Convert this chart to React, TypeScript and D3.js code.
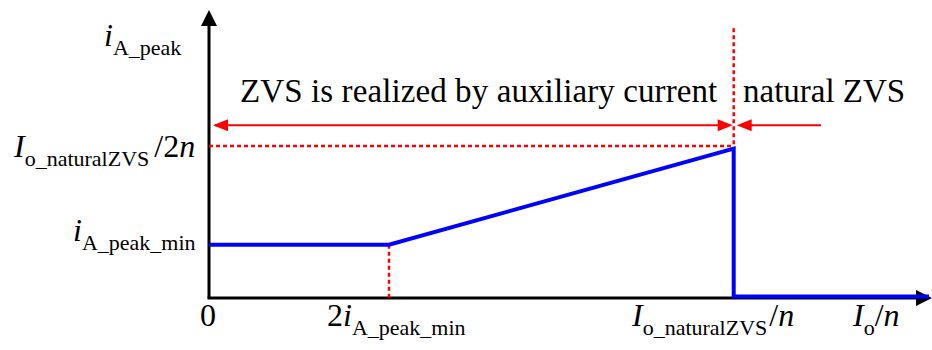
import React from "react";
import * as d3 from "d3";

// piecewise peak current curve (normalised units, iAmin = 1)
const curveX = [0, 2, 5.83, 5.83, 8];
const curveY = [1, 1, 2.8, 0.03, 0.03];

// guide lines
const kneeX = 2;
const kneeY = 1;
const natX = 5.83;
const natY = 2.85;
const arrowY = 3.24;
const guideTop = 5.06;
const arrowRightEnd = 6.8;

const regionLabels = ["ZVS is realized by auxiliary current", "natural ZVS"];

const width = 932;
const height = 350;

const FONT = "Liberation Serif";
const RED = "#ff0000";
const BLUE = "#0000ff";

type Part = { t: string; it?: boolean; sub?: boolean; dx?: number };

// math label: plain / italic / subscript pieces
const MathLabel = ({ x, y, parts }: { x: number; y: number; parts: Part[] }) => {
  let inSub = false;
  return (
    <text x={x} y={y} style={{ fontFamily: FONT }}>
      {parts.map((p, i) => {
        let dy = 0;
        if (p.sub && !inSub) dy = 9;
        if (!p.sub && inSub) dy = -9;
        inSub = !!p.sub;
        return (
          <tspan
            key={i}
            dy={dy || undefined}
            dx={p.dx}
            style={{ fontSize: p.sub ? "22px" : "32px", fontStyle: p.it ? "italic" : "normal" }}
          >
            {p.t}
          </tspan>
        );
      })}
    </text>
  );
};

const App = () => {
  const x = d3.scaleLinear().domain([0, 8]).range([209, 929]);
  const y = d3.scaleLinear().domain([0, 5.4]).range([298, 10]);

  const line = d3.line<number>()
    .x((d) => x(d))
    .y((_, i) => y(curveY[i]));

  const ay = y(arrowY);
  const head = (tip: number, dir: number) =>
    `M${tip},${ay} L${tip + dir * 15},${ay - 6} L${tip + dir * 15},${ay + 6} Z`;

  const dotted = (x1: number, y1: number, x2: number, y2: number) => (
    <line
      x1={x(x1)} y1={y(y1)} x2={x(x2)} y2={y(y2)}
      stroke={RED} strokeWidth={2.5} strokeDasharray="4,3"
    />
  );

  return (
    <svg
      width={width}
      height={height}
      style={{ position: "absolute", left: 0, top: 0, background: "#fff" }}
    >
      {/* axes */}
      <line x1={x(0)} y1={y(0)} x2={x(0)} y2={24} stroke="#000" strokeWidth={3} />
      <path d={`M${x(0)},${y(5.4)} L${x(0) - 8},26 L${x(0) + 8},26 Z`} fill="#000" />
      <line x1={x(0) - 1.5} y1={y(0)} x2={918} y2={y(0)} stroke="#000" strokeWidth={3} />
      <path d={`M932,${y(0)} L916,${y(0) - 8} L916,${y(0) + 8} Z`} fill="#000" />

      {/* red dotted guides */}
      {dotted(0, natY, natX, natY)}
      {dotted(natX, guideTop, natX, curveY[2])}
      {dotted(kneeX, kneeY, kneeX, 0)}

      {/* red arrows */}
      <line x1={x(0) + 6} y1={ay} x2={x(natX) - 6} y2={ay} stroke={RED} strokeWidth={2} />
      <path d={head(x(0) + 4, 1)} fill={RED} />
      <path d={head(x(natX) - 1, -1)} fill={RED} />
      <line x1={x(natX) + 8} y1={ay} x2={x(arrowRightEnd)} y2={ay} stroke={RED} strokeWidth={2} />
      <path d={head(x(natX) + 3, 1)} fill={RED} />

      {/* blue curve */}
      <path d={line(curveX) ?? ""} fill="none" stroke={BLUE} strokeWidth={4} />

      {/* region labels */}
      <text x={240} y={102} style={{ fontFamily: FONT, fontSize: "33px", letterSpacing: "0.1px" }}>
        {regionLabels[0]}
      </text>
      <text x={743} y={102} style={{ fontFamily: FONT, fontSize: "33px" }}>
        {regionLabels[1]}
      </text>

      {/* axis labels */}
      <MathLabel x={104} y={46} parts={[{ t: "i", it: true }, { t: "A_peak", sub: true }]} />
      <MathLabel
        x={14}
        y={157}
        parts={[
          { t: "I", it: true },
          { t: "o_naturalZVS", sub: true },
          { t: "/", dx: 5 },
          { t: "2" },
          { t: "n", it: true },
        ]}
      />
      <MathLabel x={73} y={241} parts={[{ t: "i", it: true }, { t: "A_peak_min", sub: true }]} />
      <MathLabel x={200} y={326} parts={[{ t: "0" }]} />
      <MathLabel
        x={327}
        y={326}
        parts={[{ t: "2" }, { t: "i", it: true }, { t: "A_peak_min", sub: true }]}
      />
      <MathLabel
        x={632}
        y={326}
        parts={[
          { t: "I", it: true },
          { t: "o_naturalZVS", sub: true },
          { t: "/", dx: 2 },
          { t: "n", it: true },
        ]}
      />
      <MathLabel
        x={853}
        y={326}
        parts={[{ t: "I", it: true }, { t: "o", sub: true }, { t: "/" }, { t: "n", it: true }]}
      />
    </svg>
  );
};

export default App;
